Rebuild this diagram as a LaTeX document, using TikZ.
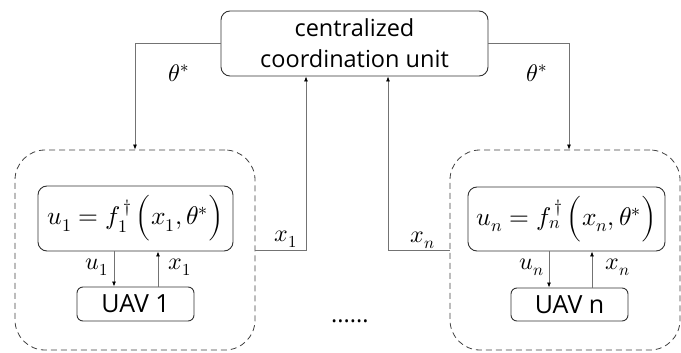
\documentclass[tikz,border=0pt]{standalone}
\usepackage{fontspec}
\usepackage{unicode-math}
\setmathfont{Latin Modern Math}
\setsansfont{Open Sans}
\usetikzlibrary{arrows.meta,calc}
\begin{document}
\begin{tikzpicture}[x=1pt,y=-1pt,
  box/.style={draw=black!80, line width=0.9pt, rounded corners=9pt, inner sep=0pt},
  grp/.style={draw=black!75, line width=0.8pt, dash pattern=on 6pt off 4pt, rounded corners=30pt, inner sep=0pt},
  conn/.style={draw=black!55, line width=0.8pt, -{Latex[length=5pt,width=4pt,fill=black,color=black]}},
  lbl/.style={font=\fontsize{24}{28}\selectfont, inner sep=0pt},
  sans/.style={font=\sffamily\fontsize{23.5}{35}\selectfont},
  uav/.style={font=\sffamily\fontsize{25}{30}\selectfont},
  fml/.style={font=\fontsize{25.5}{30}\selectfont}
]
\useasboundingbox (0,0) rectangle (681,353);
% nodes
\node[box, minimum width=267pt, minimum height=65pt, align=center, sans] (top) at (354.5,43.5) {centralized\\[-4pt]coordination unit};
\node[grp, minimum width=240pt, minimum height=200pt] (dashL) at (135,250) {};
\node[grp, minimum width=230pt, minimum height=200pt] (dashR) at (565,250) {};
\node[box, minimum width=195pt, minimum height=65pt, fml] (fL) at (135.5,218.5) {$u_1 = f_1^{\,\dagger}\,\Bigl(x_1,\theta^{*}\Bigr)$};
\node[box, minimum width=197pt, minimum height=64pt, fml] (fR) at (566.5,219) {$u_n = f_n^{\,\dagger}\,\Bigl(x_n,\theta^{*}\Bigr)$};
\node[box, rounded corners=6pt, minimum width=117pt, minimum height=34pt, uav] (uavL) at (135.5,304) {UAV 1};
\node[box, rounded corners=6pt, minimum width=117pt, minimum height=33pt, uav] (uavR) at (569.5,304.5) {UAV n};
% connectors top
\draw[conn] (top.west) -| (dashL.north);
\draw[conn] (top.east) -| ([xshift=4pt]dashR.north);
\draw[conn] (dashL.east) -| ([xshift=-48.5pt]top.south);
\draw[conn] (dashR.west) -| ([xshift=33.5pt]top.south);
% inner connectors
\draw[conn] ([xshift=-21.5pt]fL.south) -- ([xshift=-21.5pt]uavL.north);
\draw[conn] ([xshift=22.5pt]uavL.north) -- ([xshift=22.5pt]uavL.north |- fL.south);
\draw[conn] ([xshift=-20.5pt]uavR.north |- fR.south) -- ([xshift=-20.5pt]uavR.north);
\draw[conn] ([xshift=22.5pt]uavR.north) -- ([xshift=22.5pt]uavR.north |- fR.south);
% labels
\node[lbl] (thL) at (179,73) {$\theta^{*}$};
\node[lbl] (thR) at (537,73) {$\theta^{*}$};
\node[lbl] (x1t) at (286,239) {$x_1$};
\node[lbl] (xnt) at (423,240) {$x_n$};
\node[lbl] (u1) at (97,267) {$u_1$};
\node[lbl] (x1) at (180,267) {$x_1$};
\node[lbl] (un) at (532,267) {$u_n$};
\node[lbl] (xn) at (618,267) {$x_n$};
\node[sans, inner sep=0pt] (dots) at (350,321) {......};
\end{tikzpicture}
\end{document}
